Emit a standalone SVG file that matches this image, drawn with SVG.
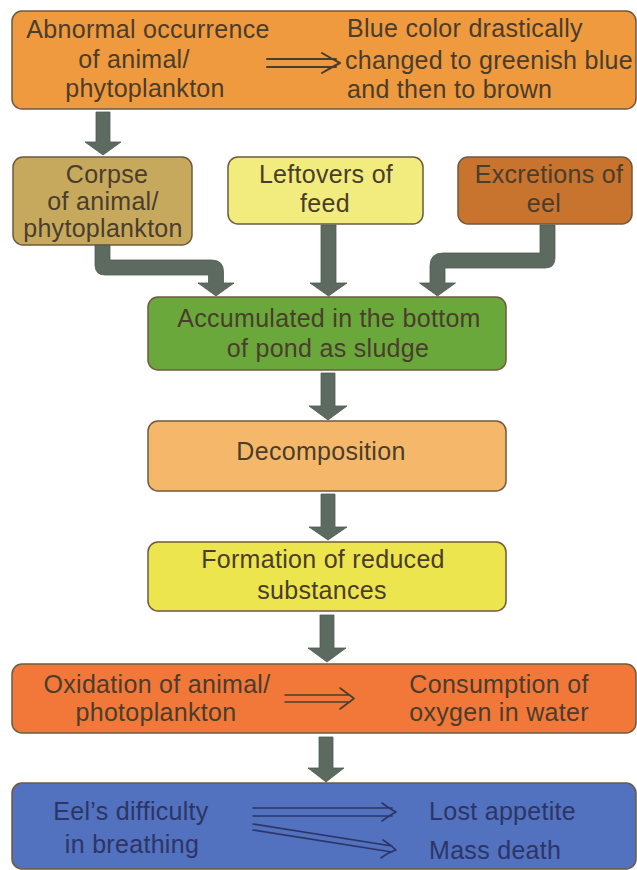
<svg xmlns="http://www.w3.org/2000/svg" width="637" height="870" viewBox="0 0 637 870">
<style>
.box{stroke:#6f5a3e;stroke-width:1.5}
.t{font-family:"Liberation Sans",Arial,sans-serif;font-size:25px;letter-spacing:0.3px;fill:#4a3d2c}
.c{text-anchor:middle}
.tb{fill:#2c3566}
.arr{fill:#5d6a5f;stroke:#4f5b51;stroke-width:0.8}
.dl{fill:none;stroke:#4a3d2c;stroke-width:2;stroke-linecap:round;stroke-linejoin:round}
.dlb{fill:none;stroke:#2c3566;stroke-width:1.6;stroke-linecap:round;stroke-linejoin:round}
</style>
<rect width="637" height="870" fill="#ffffff"/>

<g id="n-top">
<rect class="box" x="12" y="11" width="624" height="98" rx="10" fill="#ef9a3e"/>
<text class="t c" x="148" y="38">Abnormal occurrence</text>
<text class="t c" x="134" y="68">of animal/</text>
<text class="t c" x="145" y="97">phytoplankton</text>
<text class="t" x="347" y="37">Blue color drastically</text>
<text class="t" x="345" y="69">changed to greenish blue</text>
<text class="t" x="347" y="98">and then to brown</text>
<path class="dl" d="M267 59 L336 59 M267 67 L336 67 M322 53 Q332 59 340 63 Q332 67 322 73"/>
</g>

<g id="n-corpse">
<rect class="box" x="13" y="157" width="179" height="88" rx="10" fill="#c7a95e"/>
<text class="t c" x="107" y="183">Corpse</text>
<text class="t c" x="103" y="210">of animal/</text>
<text class="t c" x="103" y="237">phytoplankton</text>
</g>

<g id="n-leftovers">
<rect class="box" x="228" y="157" width="195" height="67" rx="10" fill="#f2ec7e"/>
<text class="t c" x="326" y="183">Leftovers of</text>
<text class="t c" x="325" y="212">feed</text>
</g>

<g id="n-excretions">
<rect class="box" x="458" y="157" width="174" height="67" rx="10" fill="#c8732e"/>
<text class="t c" x="549" y="183">Excretions of</text>
<text class="t c" x="544" y="212">eel</text>
</g>

<g id="n-accumulated">
<rect class="box" x="148" y="297" width="358" height="73" rx="10" fill="#6aa83c"/>
<text class="t c" x="329" y="327">Accumulated in the bottom</text>
<text class="t c" x="328" y="357">of pond as sludge</text>
</g>

<g id="n-decomposition">
<rect class="box" x="148" y="421" width="358" height="70" rx="10" fill="#f5b86a"/>
<text class="t c" x="321" y="460">Decomposition</text>
</g>

<g id="n-formation">
<rect class="box" x="148" y="542" width="358" height="69" rx="10" fill="#ede54e"/>
<text class="t c" x="323" y="568">Formation of reduced</text>
<text class="t c" x="322" y="599">substances</text>
</g>

<g id="n-oxidation">
<rect class="box" x="12" y="664" width="624" height="69" rx="10" fill="#f2783a"/>
<text class="t c" x="157" y="693">Oxidation of animal/</text>
<text class="t c" x="156" y="721">photoplankton</text>
<text class="t c" x="499" y="693">Consumption of</text>
<text class="t c" x="499" y="721">oxygen in water</text>
<path class="dl" style="stroke-width:1.6" d="M285 695 L350 695 M285 702 L350 702 M340 688 Q348 694 354 698.5 Q348 703 340 709"/>
</g>

<g id="n-eel">
<rect class="box" x="12" y="783" width="624" height="86" rx="10" fill="#5271be"/>
<text class="t c tb" x="131" y="820">Eel’s difficulty</text>
<text class="t c tb" x="132" y="853">in breathing</text>
<text class="t tb" x="429" y="820">Lost appetite</text>
<text class="t tb" x="429" y="859">Mass death</text>
<path class="dlb" d="M253 808 L392 808 M253 816 L392 816 M382 803 Q390 809 396 812 Q390 815 382 821"/>
<path class="dlb" d="M253 824 L392 846 M253 830 L392 852 M383 840 Q391 845 396 850 Q389 852 381 858"/>
</g>

<g id="connectors">
<path class="arr" d="M96 112 L110 112 L110 142 L121 142 L103 155 L85 142 L96 142 Z"/>
<path class="arr" d="M95 245 L95 265 Q95 275 105 275 L208.5 275 L208.5 283 L198 283 L216 296 L234 283 L223.5 283 L223.5 272 Q223.5 260 211.5 260 L110 260 L110 245 Z"/>
<path class="arr" d="M321 225 L336 225 L336 283 L347 283 L328.5 296 L310 283 L321 283 Z"/>
<path class="arr" d="M540 225 L555 225 L555 258 Q555 268 545 268 L445 268 L445 283 L455.5 283 L437.5 296 L419.5 283 L430 283 L430 266 Q430 253 443 253 L540 253 Z"/>
<path class="arr" d="M321 373 L335 373 L335 406 L347 406 L328 420 L309 406 L321 406 Z"/>
<path class="arr" d="M321 494 L335 494 L335 527 L347 527 L328 540 L309 527 L321 527 Z"/>
<path class="arr" d="M320 615 L334 615 L334 648 L346 648 L327 662 L308 648 L320 648 Z"/>
<path class="arr" d="M319 737 L333 737 L333 768 L344 768 L326 782 L308 768 L319 768 Z"/>
</g>
</svg>
